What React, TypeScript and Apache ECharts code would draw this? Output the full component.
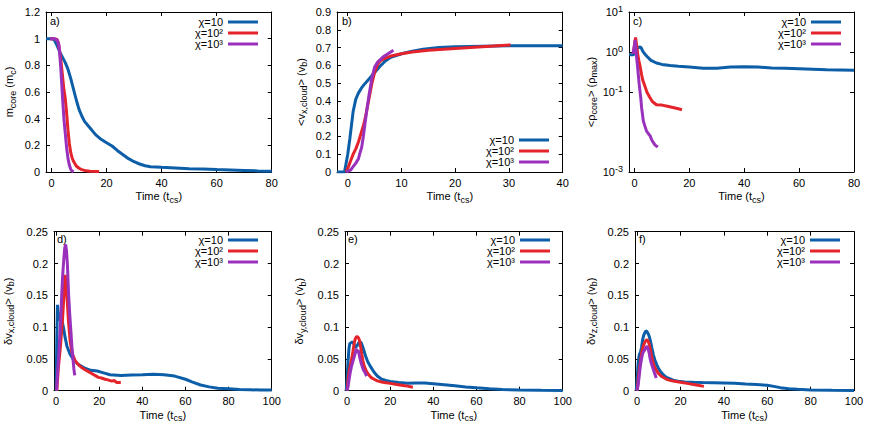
import React, { useEffect, useRef } from 'react';
import * as echarts from 'echarts';

const FF = '"Liberation Sans", Arial, Helvetica, sans-serif';
const BLUE = '#0c5ea8';
const RED = '#e4232b';
const PURPLE = '#9a31bd';
const COLORS = [BLUE, RED, PURPLE];

const SERIES_NAMES = ['χ=10', 'χ=10²', 'χ=10³'];

// tick labels
const xTicksA = [0, 20, 40, 60, 80];
const xTicksB = [0, 10, 20, 30, 40];
const xTicksBottom = [0, 20, 40, 60, 80, 100];
const yTicksA = [0, 0.2, 0.4, 0.6, 0.8, 1, 1.2];
const yTicksB = [0, 0.1, 0.2, 0.3, 0.4, 0.5, 0.6, 0.7, 0.8, 0.9];
const yTicksCExp = [-3, -1, 0, 1];
const yTicksBottom = [0, 0.05, 0.1, 0.15, 0.2, 0.25];

// a) m_core
const aT1 = [-2, 0, 1, 2, 3, 4, 5, 6, 7, 8, 9, 10, 11, 12, 14, 16, 18, 20, 22, 24, 26, 28, 30, 32, 34, 36, 40, 45, 50, 55, 60, 65, 70, 75, 80];
const aM1 = [1.0, 1.0, 0.99, 0.95, 0.9, 0.86, 0.82, 0.77, 0.7, 0.62, 0.54, 0.47, 0.42, 0.38, 0.33, 0.28, 0.245, 0.22, 0.195, 0.16, 0.13, 0.1, 0.077, 0.06, 0.047, 0.04, 0.035, 0.03, 0.025, 0.022, 0.018, 0.015, 0.012, 0.008, 0.005];
const aT2 = [-0.5, 0, 1, 2, 2.5, 3, 3.5, 4, 4.5, 5, 5.5, 6, 6.5, 7, 7.5, 8, 9, 10, 11, 12, 14, 17.3];
const aM2 = [1.0, 1.0, 1.0, 0.995, 0.97, 0.9, 0.82, 0.72, 0.62, 0.55, 0.44, 0.31, 0.21, 0.145, 0.105, 0.08, 0.045, 0.028, 0.018, 0.012, 0.006, 0.003];
const aT3 = [-0.5, 0, 1, 2, 2.7, 3, 3.3, 3.6, 4, 4.5, 5, 5.5, 6, 6.5, 7, 7.5, 8];
const aM3 = [1.0, 1.0, 1.0, 0.99, 0.95, 0.88, 0.8, 0.7, 0.56, 0.4, 0.29, 0.18, 0.1, 0.05, 0.02, 0.007, 0.0];

// b) <v_x,cloud>
const bT1 = [-2, -0.6, 0, 0.4, 1, 1.5, 2, 2.5, 3, 4, 5, 6, 7, 8, 9, 10, 12, 14, 17, 20, 25, 30, 35, 40];
const bV1 = [0, 0, 0.1, 0.19, 0.34, 0.41, 0.445, 0.47, 0.49, 0.525, 0.56, 0.595, 0.625, 0.645, 0.655, 0.665, 0.68, 0.69, 0.7, 0.705, 0.708, 0.71, 0.71, 0.71];
const bT2 = [-0.3, 0, 0.5, 1, 1.5, 2, 2.5, 3, 3.5, 4, 4.5, 5, 5.5, 6, 7, 8, 10, 12, 15, 20, 25, 30.3];
const bV2 = [0, 0.02, 0.06, 0.1, 0.13, 0.17, 0.22, 0.27, 0.34, 0.42, 0.5, 0.56, 0.6, 0.625, 0.64, 0.652, 0.665, 0.675, 0.685, 0.695, 0.705, 0.715];
const bT3 = [-0.3, 0.5, 1, 1.5, 2, 2.3, 2.6, 2.9, 3.2, 3.6, 4, 4.5, 5, 5.6, 6.5, 7.2, 8, 8.5];
const bV3 = [0, 0.01, 0.03, 0.05, 0.075, 0.11, 0.14, 0.2, 0.27, 0.36, 0.44, 0.53, 0.59, 0.62, 0.645, 0.66, 0.675, 0.685];

// c) <rho_core> (log scale)
const cT1 = [-2, -0.5, 0, 0.3, 0.6, 1, 1.5, 2, 2.5, 3, 4, 5, 6, 8, 10, 13, 16, 20, 25, 30, 35, 40, 45, 50, 55, 60, 65, 70, 75, 80];
const cR1 = [0.85, 0.85, 0.9, 1.6, 1.2, 1.2, 1.3, 1.35, 1.25, 1.05, 0.85, 0.72, 0.62, 0.53, 0.49, 0.46, 0.44, 0.42, 0.39, 0.39, 0.42, 0.43, 0.42, 0.4, 0.39, 0.38, 0.37, 0.36, 0.355, 0.35];
const cT2 = [-0.5, 0, 0.4, 0.8, 1.2, 1.6, 2, 2.6, 3, 3.8, 4.5, 5.5, 6.5, 8, 10, 12, 14, 16, 17.3];
const cR2 = [0.9, 1.5, 2.3, 1.4, 0.85, 0.6, 0.45, 0.27, 0.2, 0.14, 0.1, 0.075, 0.058, 0.048, 0.047, 0.044, 0.041, 0.038, 0.036];
const cT3 = [-0.5, 0, 0.2, 0.5, 0.8, 1.1, 1.4, 1.7, 2.0, 2.3, 2.6, 2.9, 3.2, 3.8, 4.4, 5, 5.7, 6.3, 6.9, 7.5, 8.1, 8.5];
const cR3 = [0.9, 1.5, 2.0, 1.2, 0.7, 0.45, 0.27, 0.16, 0.105, 0.07, 0.04, 0.028, 0.019, 0.014, 0.0105, 0.0092, 0.008, 0.0063, 0.0054, 0.0047, 0.0044, 0.0042];

// d) delta v_x,cloud
const dT1 = [0, 0.3, 0.6, 1, 1.3, 1.8, 2.2, 2.6, 3.4, 4.2, 5, 6.5, 8, 10, 13, 16, 19, 22, 25, 30, 35, 40, 45, 50, 55, 60, 63, 67, 71, 75, 80, 85, 90, 95, 100];
const dV1 = [0, 0.08, 0.135, 0.12, 0.11, 0.122, 0.12, 0.112, 0.099, 0.083, 0.07, 0.057, 0.049, 0.042, 0.036, 0.032, 0.031, 0.028, 0.025, 0.024, 0.0245, 0.025, 0.026, 0.025, 0.023, 0.018, 0.014, 0.009, 0.006, 0.004, 0.003, 0.002, 0.0015, 0.001, 0.001];
const dT2 = [0.3, 1, 2, 3, 3.7, 4.2, 5, 5.7, 6.5, 7.3, 8.8, 10.3, 12, 13.4, 15, 16.5, 18, 19.6, 21, 22.7, 24, 25.8, 27, 28, 30];
const dV2 = [0, 0.035, 0.07, 0.115, 0.155, 0.182, 0.15, 0.11, 0.078, 0.06, 0.047, 0.041, 0.036, 0.033, 0.03, 0.027, 0.024, 0.021, 0.02, 0.018, 0.017, 0.015, 0.016, 0.013, 0.013];
const dT3 = [0.2, 0.5, 1, 1.5, 2, 2.5, 3, 3.5, 4, 4.4, 4.8, 5.2, 5.8, 6.3, 6.8, 7.3, 7.8, 8.2, 8.6];
const dV3 = [0, 0.02, 0.045, 0.075, 0.105, 0.145, 0.18, 0.205, 0.225, 0.23, 0.22, 0.2, 0.15, 0.12, 0.095, 0.07, 0.05, 0.035, 0.024];

// e) delta v_y,cloud
const eT1 = [-0.4, 0, 0.4, 0.8, 1.2, 2, 2.7, 3.3, 3.8, 4.5, 5.3, 6, 6.6, 7.5, 8.5, 9.5, 11, 12.5, 14, 16, 18, 20, 24, 28, 32, 36, 40, 45, 50, 55, 60, 66, 72, 80, 90, 100];
const eV1 = [0, 0.02, 0.045, 0.065, 0.074, 0.076, 0.076, 0.072, 0.068, 0.07, 0.075, 0.077, 0.075, 0.066, 0.055, 0.046, 0.037, 0.029, 0.023, 0.018, 0.016, 0.0145, 0.013, 0.0118, 0.012, 0.012, 0.011, 0.0095, 0.0078, 0.006, 0.0045, 0.003, 0.002, 0.001, 0.0007, 0.0005];
const eT2 = [0, 0.5, 1, 1.6, 2.2, 2.7, 3.2, 3.7, 4.3, 4.8, 5.3, 5.8, 6.3, 6.8, 7.3, 8, 9, 10, 11, 12.5, 14, 16, 18, 20, 23, 26, 28, 30.5];
const eV2 = [0, 0.02, 0.032, 0.042, 0.052, 0.062, 0.073, 0.081, 0.085, 0.085, 0.083, 0.078, 0.068, 0.057, 0.047, 0.038, 0.03, 0.025, 0.021, 0.018, 0.0155, 0.0138, 0.0125, 0.0115, 0.0098, 0.0083, 0.0072, 0.0055];
const eT3 = [0, 0.5, 1, 1.5, 2, 2.5, 3, 3.5, 4, 4.3, 4.7, 5.1, 5.5, 6, 6.5, 7, 7.5, 8, 8.5, 9];
const eV3 = [0, 0.008, 0.02, 0.03, 0.038, 0.044, 0.05, 0.056, 0.062, 0.066, 0.06, 0.064, 0.058, 0.05, 0.043, 0.038, 0.033, 0.03, 0.027, 0.023];

// f) delta v_z,cloud
const fT1 = [-0.4, 0, 0.5, 1, 1.5, 2, 2.5, 3, 3.5, 4, 4.5, 5, 5.5, 6, 6.8, 7.5, 8.2, 9, 10, 11, 12, 13.5, 15, 17, 19, 22, 26, 30, 35, 40, 45, 50, 55, 60, 63, 66, 70, 74, 80, 90, 100];
const fV1 = [0, 0.02, 0.045, 0.057, 0.06, 0.068, 0.08, 0.087, 0.091, 0.094, 0.093, 0.09, 0.086, 0.08, 0.067, 0.056, 0.048, 0.041, 0.034, 0.029, 0.025, 0.021, 0.019, 0.016, 0.0148, 0.0138, 0.0132, 0.0128, 0.0126, 0.0122, 0.0116, 0.0106, 0.0098, 0.0085, 0.0068, 0.0048, 0.0032, 0.0022, 0.0012, 0.0007, 0.0005];
const fT2 = [0, 0.5, 1, 1.5, 2, 2.5, 3, 3.5, 4, 4.5, 5, 5.5, 6, 6.5, 7, 7.6, 8.5, 9.6, 11, 12.5, 14, 16, 18, 20, 23, 26, 28, 30.8];
const fV2 = [0, 0.018, 0.033, 0.045, 0.058, 0.066, 0.072, 0.076, 0.079, 0.08, 0.078, 0.074, 0.066, 0.057, 0.049, 0.041, 0.034, 0.028, 0.023, 0.02, 0.0175, 0.0155, 0.0143, 0.0133, 0.0115, 0.0097, 0.0085, 0.0068];
const fT3 = [0, 0.5, 1, 1.5, 2, 2.5, 3, 3.5, 4, 4.5, 5, 5.5, 6, 6.5, 7, 7.5, 8, 8.8];
const fV3 = [0, 0.01, 0.025, 0.04, 0.05, 0.058, 0.062, 0.064, 0.068, 0.07, 0.066, 0.06, 0.05, 0.043, 0.038, 0.033, 0.028, 0.02];

const RICH: any = {
  n: { fontSize: 11, fontFamily: FF, color: '#000', lineHeight: 16 },
  sub: { fontSize: 9, fontFamily: FF, color: '#000', lineHeight: 9, verticalAlign: 'bottom' },
  sup: { fontSize: 9, fontFamily: FF, color: '#000', lineHeight: 9, verticalAlign: 'top' },
};

const fmtNum = (v: number) => String(+(+v).toFixed(4));

const X_NAME = '{n|Time (t}{sub|cs}{n|)}';

const panels = [
  {
    grid: { left: 46, top: 12, width: 225.7, height: 160 }, xMin: -2, xMax: 80, xTicks: xTicksA,
    yMin: 0, yMax: 1.2, yTicks: yTicksA, yName: '{n|m}{sub|core}{n| (m}{sub|c}{n|)}', yNameGap: 29,
    letter: 'a)', letterPos: [50, 22], legendRight: 614, legendRow0: 22, log: false,
    data: [[aT1, aM1], [aT2, aM2], [aT3, aM3]],
  },
  {
    grid: { left: 337, top: 12, width: 225.7, height: 160 }, xMin: -2, xMax: 40, xTicks: xTicksB,
    yMin: 0, yMax: 0.9, yTicks: yTicksB, yName: '{n|<v}{sub|x,cloud}{n|> (v}{sub|b}{n|)}', yNameGap: 28.5,
    letter: 'b)', letterPos: [342, 22], legendRight: 323, legendRow0: 140, log: false,
    data: [[bT1, bV1], [bT2, bV2], [bT3, bV3]],
  },
  {
    grid: { left: 629, top: 12, width: 225, height: 160 }, xMin: -2, xMax: 80, xTicks: xTicksA,
    yMin: -3, yMax: 1, yTicks: yTicksCExp, yName: '{n|<ρ}{sub|core}{n|> (ρ}{sub|max}{n|)}', yNameGap: 29,
    letter: 'c)', letterPos: [633, 22], legendRight: 31, legendRow0: 22, log: true,
    data: [[cT1, cR1], [cT2, cR2], [cT3, cR3]],
  },
  {
    grid: { left: 54, top: 231.7, width: 217.7, height: 159 }, xMin: -1, xMax: 100, xTicks: xTicksBottom,
    yMin: 0, yMax: 0.25, yTicks: yTicksBottom, yName: '{n|δv}{sub|x,cloud}{n|> (v}{sub|b}{n|)}', yNameGap: 38.5,
    letter: 'd)', letterPos: [57, 240], legendRight: 614, legendRow0: 240, log: false,
    data: [[dT1, dV1], [dT2, dV2], [dT3, dV3]],
  },
  {
    grid: { left: 345, top: 231.7, width: 217.7, height: 159 }, xMin: -1, xMax: 100, xTicks: xTicksBottom,
    yMin: 0, yMax: 0.25, yTicks: yTicksBottom, yName: '{n|δv}{sub|y,cloud}{n|> (v}{sub|b}{n|)}', yNameGap: 38,
    letter: 'e)', letterPos: [348, 240], legendRight: 322, legendRow0: 240, log: false,
    data: [[eT1, eV1], [eT2, eV2], [eT3, eV3]],
  },
  {
    grid: { left: 635, top: 231.7, width: 219, height: 159 }, xMin: -1, xMax: 100, xTicks: xTicksBottom,
    yMin: 0, yMax: 0.25, yTicks: yTicksBottom, yName: '{n|δv}{sub|z,cloud}{n|> (v}{sub|b}{n|)}', yNameGap: 36.5,
    letter: 'f)', letterPos: [639, 240], legendRight: 32, legendRow0: 240, log: false,
    data: [[fT1, fV1], [fT2, fV2], [fT3, fV3]],
  },
];

function buildOption() {
  const grids: any[] = [];
  const xAxes: any[] = [];
  const yAxes: any[] = [];
  const series: any[] = [];
  const legends: any[] = [];
  const graphics: any[] = [];
  const lineStyle = { color: '#000', width: 1 };

  panels.forEach((p, i) => {
    grids.push({ ...p.grid, containLabel: false });
    const labelStyle = { fontSize: 11, fontFamily: FF, color: '#000' };
    xAxes.push({
      type: 'value', gridIndex: i, min: p.xMin, max: p.xMax, position: 'bottom',
      axisLine: { show: true, onZero: false, lineStyle },
      axisTick: { show: true, inside: true, length: 4, customValues: p.xTicks, lineStyle },
      axisLabel: { show: true, customValues: p.xTicks, margin: 5, ...labelStyle, formatter: (v: number) => fmtNum(v) },
      splitLine: { show: false },
      name: X_NAME, nameLocation: 'middle', nameGap: 16,
      nameTextStyle: { rich: RICH, fontFamily: FF, fontSize: 11, color: '#000' },
    });
    xAxes.push({
      type: 'value', gridIndex: i, min: p.xMin, max: p.xMax, position: 'top',
      axisLine: { show: true, onZero: false, lineStyle },
      axisTick: { show: true, inside: true, length: 4, customValues: p.xTicks, lineStyle },
      axisLabel: { show: false },
      splitLine: { show: false },
    });
    const yLabel = p.log
      ? { show: true, customValues: p.yTicks, margin: 6, rich: RICH, formatter: (v: number) => '{n|10}{sup|' + Math.round(v) + '}' }
      : { show: true, customValues: p.yTicks, margin: 6, ...labelStyle, formatter: (v: number) => fmtNum(v) };
    yAxes.push({
      type: 'value', gridIndex: i, min: p.yMin, max: p.yMax, position: 'left',
      axisLine: { show: true, onZero: false, lineStyle },
      axisTick: { show: true, inside: true, length: 4, customValues: p.yTicks, lineStyle },
      axisLabel: yLabel,
      splitLine: { show: false },
      name: p.yName, nameLocation: 'middle', nameGap: p.yNameGap,
      nameTextStyle: { rich: RICH, fontFamily: FF, fontSize: 11, color: '#000' },
    });
    yAxes.push({
      type: 'value', gridIndex: i, min: p.yMin, max: p.yMax, position: 'right',
      axisLine: { show: true, onZero: false, lineStyle },
      axisTick: { show: true, inside: true, length: 4, customValues: p.yTicks, lineStyle },
      axisLabel: { show: false },
      splitLine: { show: false },
    });
    p.data.forEach((pair, k) => {
      const [ts, vs] = pair;
      series.push({
        type: 'line', name: SERIES_NAMES[k], xAxisIndex: 2 * i, yAxisIndex: 2 * i,
        data: ts.map((t: number, j: number) => [t, p.log ? Math.log10(vs[j]) : vs[j]]),
        symbol: 'none', showSymbol: false, smooth: false, clip: true,
        lineStyle: { color: COLORS[k], width: 3 }, itemStyle: { color: COLORS[k] },
        z: 2 + k,
      });
      // one legend entry per row so the 11px row pitch is exact
      legends.push({
        orient: 'vertical', align: 'right', right: p.legendRight, top: p.legendRow0 + 11 * k - 6.5,
        padding: 0, itemWidth: 30, itemHeight: 3, icon: 'rect', selectedMode: false,
        data: [SERIES_NAMES[k]],
        textStyle: { fontFamily: FF, fontSize: 11, color: '#000', lineHeight: 13 },
      });
    });
    graphics.push({
      type: 'text', left: p.letterPos[0], top: p.letterPos[1] - 7,
      style: { text: p.letter, font: '11px ' + FF, fill: '#000' },
    });
  });

  return {
    animation: false,
    backgroundColor: '#fff',
    textStyle: { fontFamily: FF },
    grid: grids, xAxis: xAxes, yAxis: yAxes, series, legend: legends, graphic: graphics,
  };
}

export default function App() {
  const ref = useRef<HTMLDivElement>(null);
  useEffect(() => {
    if (!ref.current) return;
    const chart = echarts.init(ref.current, undefined, { renderer: 'svg' });
    chart.setOption(buildOption() as any);
    return () => chart.dispose();
  }, []);
  return <div ref={ref} style={{ position: 'fixed', left: 0, top: 0, width: 872, height: 436 }} />;
}
